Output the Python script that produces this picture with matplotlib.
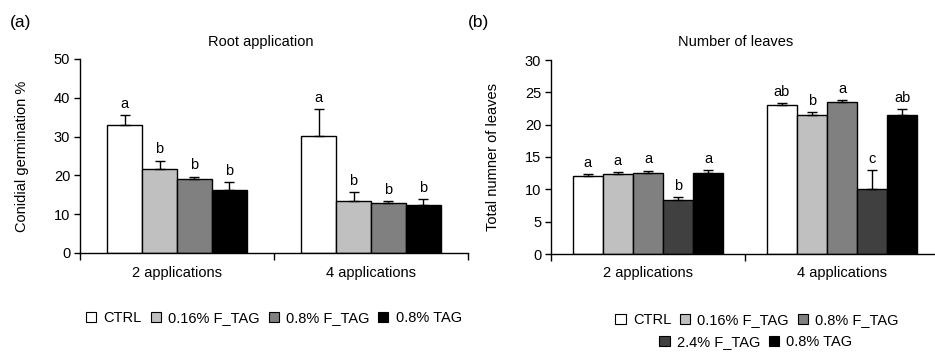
import numpy as np
import matplotlib.pyplot as plt
from matplotlib.patches import Patch

plt.rcParams['font.family'] = ['Liberation Sans', 'DejaVu Sans']

groups = ['2 applications', '4 applications']

# panel (a) - root application, conidial germination %
a_names = ['CTRL', '0.16% F_TAG', '0.8% F_TAG', '0.8% TAG']
a_colors = ['white', '#c0c0c0', '#808080', 'black']
a_vals = [[32.9, 30.2], [21.7, 13.4], [19.0, 13.0], [16.3, 12.3]]
a_err = [[2.6, 6.9], [2.1, 2.4], [0.7, 0.3], [2.0, 1.7]]
a_letters = [['a', 'a'], ['b', 'b'], ['b', 'b'], ['b', 'b']]

# panel (b) - number of leaves
b_names = ['CTRL', '0.16% F_TAG', '0.8% F_TAG', '2.4% F_TAG', '0.8% TAG']
b_colors = ['white', '#c0c0c0', '#808080', '#404040', 'black']
b_vals = [[12.1, 23.0], [12.4, 21.5], [12.6, 23.5], [8.3, 10.0], [12.6, 21.5]]
b_err = [[0.2, 0.4], [0.3, 0.5], [0.3, 0.3], [0.5, 3.0], [0.4, 0.9]]
b_letters = [['a', 'ab'], ['a', 'b'], ['a', 'a'], ['b', 'c'], ['a', 'ab']]

W, H = 935, 352
fig = plt.figure(figsize=(W / 100, H / 100), dpi=100)
FS = 10.5


def draw_panel(ax, vals, errs, letters, colors, width, ymax, ystep):
    n = len(vals)
    x = np.arange(len(groups))
    for i in range(n):
        pos = x + (i - (n - 1) / 2) * width
        ax.bar(pos, vals[i], width, color=colors[i], edgecolor='black', linewidth=1.0,
               yerr=[[0] * len(groups), errs[i]], capsize=3.5,
               error_kw=dict(elinewidth=1.0, capthick=1.0, ecolor='black'), zorder=2)
        for j in range(len(groups)):
            ax.annotate(letters[i][j], (pos[j], vals[i][j] + errs[i][j]), xytext=(0, 3),
                        textcoords='offset points', ha='center', va='bottom', fontsize=FS)
    ax.set_xlim(-0.5, len(groups) - 0.5)
    ax.set_ylim(0, ymax)
    ax.set_yticks(np.arange(0, ymax + 1, ystep))
    ax.set_xticks(x)
    ax.set_xticklabels(groups)
    ax.set_xticks(np.arange(-0.5, len(groups)), minor=True)
    ax.tick_params(axis='x', which='major', length=0, pad=9, labelsize=FS)
    ax.tick_params(axis='x', which='minor', length=5, width=1, direction='out')
    ax.tick_params(axis='y', length=4, width=1, direction='out', labelsize=FS, pad=3)
    for s in ['top', 'right']:
        ax.spines[s].set_visible(False)
    for s in ['left', 'bottom']:
        ax.spines[s].set_linewidth(1.0)


leg_kw = dict(loc='center', bbox_transform=fig.transFigure, frameon=False, fontsize=FS,
              handlelength=0.7, handleheight=0.7, handletextpad=0.5, columnspacing=0.6)

# (a)
axa = fig.add_axes([80 / W, (H - 253) / H, 388 / W, 194 / H])
draw_panel(axa, a_vals, a_err, a_letters, a_colors, 0.18, 50, 10)
axa.set_ylabel('Conidial germination %', fontsize=FS, labelpad=18)
fig.text(261 / W, 1 - 42 / H, 'Root application', ha='center', va='center', fontsize=FS)
fig.text(10 / W, 1 - 22 / H, '(a)', ha='left', va='center', fontsize=12.5)

hl = [Patch(facecolor=c, edgecolor='black', linewidth=0.8) for c in a_colors]
axa.legend(hl, a_names, bbox_to_anchor=(274 / W, 1 - 318 / H), ncol=4, **leg_kw)

# (b)
axb = fig.add_axes([551 / W, (H - 254) / H, 388 / W, 194 / H])
draw_panel(axb, b_vals, b_err, b_letters, b_colors, 0.155, 30, 5)
axb.set_ylabel('Total numner of leaves', fontsize=FS, labelpad=18)
fig.text(736 / W, 1 - 42 / H, 'Number of leaves', ha='center', va='center', fontsize=FS)
fig.text(468 / W, 1 - 22 / H, '(b)', ha='left', va='center', fontsize=12.5)

hb = [Patch(facecolor=c, edgecolor='black', linewidth=0.8) for c in b_colors]
leg1 = axb.legend(hb[:3], b_names[:3], bbox_to_anchor=(757 / W, 1 - 320 / H), ncol=3, **leg_kw)
axb.add_artist(leg1)
axb.legend(hb[3:], b_names[3:], bbox_to_anchor=(756 / W, 1 - 342 / H), ncol=2, **leg_kw)

fig.savefig('out.png', dpi=100)
